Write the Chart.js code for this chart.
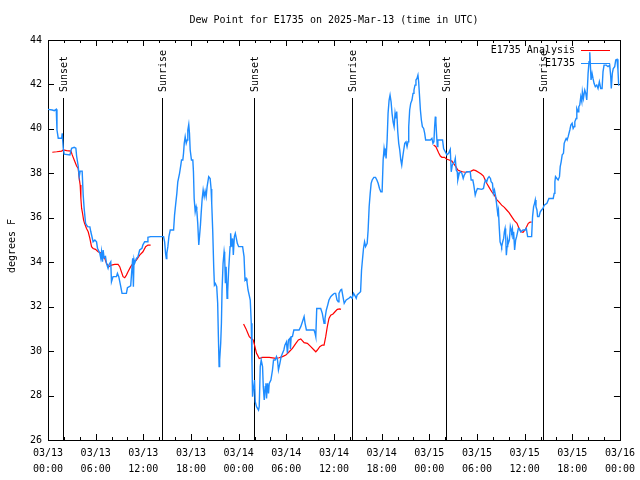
<!DOCTYPE html>
<html>
  <head>
    <title>Dew Point for E1735</title>
    <script src="https://cdn.jsdelivr.net/npm/chart.js@4.4.1/dist/chart.umd.min.js"></script>
    <style>
      body { margin: 0; background: #fff; }
    </style>
  </head>
  <body>
    <canvas id="myChart" width="640" height="480"></canvas>
  </body>
  <script>
    // hours since 03/13 00:00 UTC
    const obsHours = [0.0, 0.54, 0.79, 1.04, 1.13, 1.29, 1.72, 1.79, 1.92, 2.04, 2.76, 2.97, 3.30, 3.51, 3.60, 3.80, 3.93, 4.05, 4.30, 4.43,
      4.55, 4.73, 4.98, 5.27, 5.39, 5.68, 5.90, 6.11, 6.23, 6.52, 6.65, 6.74, 6.86, 6.94, 7.06, 7.24, 7.36, 7.56, 7.69, 7.90,
      7.99, 8.19, 8.62, 8.74, 8.91, 9.16, 9.32, 9.87, 10.00, 10.41, 10.66, 10.75, 10.83, 10.91, 11.13, 11.33, 11.54, 11.83, 11.95, 12.17,
      12.51, 12.58, 12.92, 14.26, 14.55, 14.68, 14.80, 14.89, 14.96, 15.09, 15.22, 15.39, 15.81, 15.93, 16.06, 16.22, 16.34, 16.56, 16.72, 16.81,
      16.97, 17.06, 17.15, 17.27, 17.40, 17.52, 17.60, 17.72, 17.81, 17.90, 18.06, 18.23, 18.31, 18.40, 18.53, 18.65, 18.73, 18.85, 18.98, 19.07,
      19.19, 19.28, 19.41, 19.53, 19.66, 19.78, 19.91, 20.03, 20.23, 20.41, 20.53, 20.61, 20.74, 20.86, 20.95, 21.07, 21.24, 21.36, 21.45, 21.54,
      21.61, 21.74, 21.83, 21.91, 22.04, 22.17, 22.24, 22.33, 22.42, 22.54, 22.62, 22.74, 22.92, 22.99, 23.12, 23.24, 23.33, 23.46, 23.58, 23.71,
      23.83, 24.00, 24.50, 24.68, 24.80, 24.93, 25.05, 25.18, 25.34, 25.46, 25.59, 25.68, 25.75, 25.84, 26.00, 26.09, 26.25, 26.50, 26.59, 26.72,
      26.84, 27.01, 27.10, 27.22, 27.35, 27.43, 27.51, 27.63, 27.76, 27.85, 28.06, 28.26, 28.39, 28.60, 28.76, 28.89, 29.01, 29.19, 29.35, 29.52,
      29.69, 29.82, 30.02, 30.14, 30.27, 30.44, 30.52, 30.61, 30.77, 30.95, 31.61, 31.82, 32.03, 32.24, 32.36, 32.53, 33.49, 33.62, 33.71, 33.83,
      34.33, 34.53, 34.75, 34.87, 35.04, 35.21, 35.37, 35.59, 35.79, 36.04, 36.21, 36.38, 36.54, 36.63, 36.84, 36.97, 37.13, 37.29, 37.54, 37.88,
      38.09, 38.29, 38.47, 38.63, 38.80, 38.92, 39.14, 39.35, 39.47, 39.60, 39.72, 39.85, 39.98, 40.18, 40.30, 40.43, 40.56, 40.68, 40.81, 41.02,
      41.23, 41.40, 41.56, 41.73, 41.90, 42.06, 42.19, 42.31, 42.40, 42.49, 42.56, 42.69, 42.81, 42.94, 43.06, 43.19, 43.31, 43.44, 43.57, 43.69,
      43.78, 43.90, 44.03, 44.15, 44.28, 44.41, 44.53, 44.66, 44.78, 44.91, 45.07, 45.20, 45.32, 45.41, 45.53, 45.66, 45.82, 45.95, 46.07, 46.20,
      46.32, 46.45, 46.57, 46.66, 46.75, 46.88, 47.00, 47.13, 47.29, 47.42, 47.54, 48.13, 48.33, 48.46, 48.58, 48.67, 48.76, 48.83, 48.92, 49.01,
      49.08, 49.67, 49.80, 50.01, 50.21, 50.43, 50.64, 50.76, 50.89, 51.01, 51.18, 51.27, 51.39, 51.52, 51.59, 51.77, 51.93, 52.10, 52.27, 52.40,
      52.52, 52.72, 53.15, 53.27, 53.48, 53.60, 53.69, 53.78, 53.90, 54.06, 54.60, 54.82, 54.94, 55.07, 55.23, 55.36, 55.53, 55.70, 55.78, 55.95,
      56.07, 56.20, 56.36, 56.49, 56.61, 56.70, 56.79, 56.91, 57.04, 57.11, 57.24, 57.36, 57.45, 57.54, 57.61, 57.70, 57.79, 57.87, 57.95, 58.08,
      58.20, 58.29, 58.37, 58.46, 58.54, 58.62, 58.74, 58.87, 58.99, 59.12, 59.21, 59.33, 59.50, 59.80, 60.05, 60.21, 60.38, 60.88, 61.00, 61.13,
      61.25, 61.34, 61.43, 61.55, 61.63, 61.81, 61.97, 62.13, 62.31, 62.47, 62.81, 63.06, 63.60, 63.72, 63.81, 63.89, 64.06, 64.22, 64.39, 64.48,
      64.60, 64.73, 64.89, 64.98, 65.14, 65.23, 65.35, 65.48, 65.69, 65.82, 65.98, 66.11, 66.23, 66.32, 66.48, 66.57, 66.73, 66.82, 66.94, 67.07,
      67.20, 67.27, 67.40, 67.57, 67.70, 67.82, 67.90, 67.99, 68.11, 68.20, 68.28, 68.36, 68.49, 68.61, 68.74, 68.90, 69.08, 69.24, 69.41, 69.58,
      69.75, 69.87, 70.00, 70.28, 70.50, 70.71, 70.84, 70.91, 71.04, 71.16, 71.34, 71.47, 71.63, 71.75, 71.84, 71.92]
    const obsDew = [40.88, 40.85, 40.82, 40.88, 39.95, 39.58, 39.58, 39.8, 39.13, 38.86, 38.83, 39.13, 39.17, 39.13, 38.78, 38.33, 37.85, 38.1, 38.1, 37.02,
      36.43, 35.75, 35.6, 35.59, 35.37, 34.92, 35.0, 34.92, 34.63, 34.4, 34.17, 34.47, 34.02, 34.55, 34.2, 34.25, 33.95, 33.73, 33.9, 34.02,
      33.12, 33.35, 33.35, 33.5, 33.35, 32.9, 32.6, 32.6, 32.85, 32.94, 34.18, 32.9, 34.1, 33.95, 34.17, 34.25, 34.55, 34.63, 34.78, 34.92,
      34.92, 35.12, 35.15, 35.15, 35.15, 34.92, 34.4, 34.17, 34.4, 34.7, 35.15, 35.45, 35.45, 36.12, 36.57, 37.1, 37.62, 38.0, 38.37, 38.6,
      38.6, 38.9, 39.35, 39.65, 39.35, 39.5, 39.95, 40.2, 39.8, 39.05, 38.6, 38.6, 38.07, 36.87, 36.27, 36.5, 36.35, 35.75, 34.78, 35.15,
      35.67, 36.2, 36.87, 37.25, 36.95, 37.2, 36.95, 37.4, 37.85, 37.77, 37.3, 36.65, 35.37, 33.8, 32.97, 33.04, 32.9, 32.15, 30.65, 29.3,
      29.6, 30.35, 31.25, 32.75, 33.95, 34.47, 34.25, 33.05, 33.8, 32.38, 32.68, 33.65, 34.7, 35.3, 34.7, 35.07, 34.33, 35.15, 35.3, 35.07,
      34.85, 34.7, 34.7, 34.25, 33.2, 33.27, 33.12, 32.75, 32.5, 32.3, 31.25, 29.45, 27.95, 28.25, 28.7, 27.72, 27.5, 27.35, 27.5, 29.3,
      29.6, 29.3, 28.4, 27.8, 28.4, 28.55, 27.87, 28.55, 28.1, 28.55, 28.7, 29.15, 29.6, 29.6, 29.75, 29.6, 29.15, 29.45, 29.75, 29.9,
      30.05, 30.27, 30.42, 29.9, 30.5, 30.57, 30.1, 30.65, 30.65, 30.95, 30.95, 31.1, 31.32, 31.55, 31.25, 30.95, 30.95, 30.8, 30.65, 31.92,
      31.92, 31.7, 31.25, 31.47, 31.85, 32.07, 32.3, 32.45, 32.52, 32.6, 32.6, 32.3, 32.22, 32.6, 32.75, 32.78, 32.45, 32.15, 32.3, 32.38,
      32.45, 32.38, 32.6, 32.5, 32.38, 32.53, 32.6, 32.67, 33.65, 34.17, 34.63, 34.92, 34.7, 34.85, 35.45, 36.5, 37.1, 37.55, 37.7, 37.82,
      37.82, 37.7, 37.55, 37.32, 37.17, 37.17, 38.6, 39.12, 38.9, 39.0, 38.67, 39.5, 40.7, 41.3, 41.52, 41.22, 40.7, 40.32, 40.1, 40.7,
      40.47, 40.78, 39.87, 39.35, 39.05, 38.6, 38.37, 38.75, 39.05, 39.35, 39.42, 39.2, 39.42, 40.1, 40.85, 41.15, 41.3, 41.6, 41.75, 41.97,
      42.2, 42.27, 42.42, 42.12, 41.6, 40.85, 40.4, 40.1, 40.02, 39.8, 39.5, 39.5, 39.57, 39.35, 39.42, 40.1, 40.55, 40.32, 39.72, 39.2,
      39.5, 39.5, 39.12, 38.97, 38.83, 38.9, 39.08, 38.07, 38.37, 38.45, 38.52, 38.67, 38.15, 38.07, 37.7, 38.0, 38.07, 38.0, 37.77, 37.92,
      38.0, 38.07, 38.07, 37.7, 37.7, 37.47, 37.25, 37.02, 37.17, 37.32, 37.28, 37.32, 37.55, 37.7, 37.62, 37.77, 37.85, 37.77, 37.62, 37.55,
      37.1, 37.25, 36.95, 36.57, 36.2, 36.35, 35.67, 34.92, 34.77, 34.7, 34.92, 35.07, 35.37, 35.52, 35.22, 34.32, 34.7, 34.99, 34.85, 34.99,
      35.6, 35.45, 35.37, 35.52, 35.07, 35.37, 34.55, 35.0, 35.15, 35.37, 35.52, 35.52, 35.37, 35.45, 35.45, 35.52, 35.15, 35.15, 36.05, 36.5,
      36.65, 36.8, 36.5, 36.35, 36.05, 36.05, 36.27, 36.35, 36.42, 36.57, 36.65, 36.87, 36.87, 37.1, 37.62, 37.85, 37.77, 37.7, 37.85, 38.3,
      38.52, 38.83, 38.9, 39.35, 39.5, 39.57, 39.5, 39.65, 39.95, 40.17, 40.25, 40.02, 40.1, 40.32, 40.47, 40.92, 40.77, 41.0, 41.07, 41.45,
      41.22, 41.67, 41.37, 41.75, 41.6, 41.3, 41.82, 42.5, 43.02, 43.45, 42.87, 42.2, 42.5, 42.27, 42.05, 41.9, 41.97, 41.82, 42.12, 41.82,
      41.82, 42.58, 42.87, 42.87, 42.8, 42.87, 42.35, 41.82, 42.5, 42.72, 42.8, 43.1, 43.13, 42.65, 41.97, 41.97]

    // analysis, null marks a gap in the run
    const anaHours = [0.54, 1.09, 1.72, 1.92, 2.35, 2.89, 3.05, 3.30, 3.60, 3.80, 3.93, 4.05, 4.14, 4.23, 4.35, 4.48, 4.60, 4.85, 5.06, 5.27,
      5.48, 5.68, 5.98, 6.31, 6.74, 7.06, 7.36, 7.65, 7.99, 8.40, 8.82, 9.03, 9.24, 9.45, 9.66, 9.87, 10.07, 10.41, 10.70, 11.13,
      11.54, 11.95, 12.29, 12.58, 12.92, 18.0,
      24.62, 24.93, 25.13, 25.34, 25.59, 25.84, 26.05, 26.25, 26.38, 26.59, 27.01, 27.85, 28.69, 29.10, 29.52, 29.94, 30.36, 30.77, 31.20, 31.52,
      31.82, 32.24, 32.65, 33.08, 33.49, 33.71, 33.91, 34.21, 34.53, 34.75, 34.96, 35.16, 35.37, 35.59, 35.88, 36.13, 36.42, 36.72, 36.88, 42.0,
      48.54, 48.83, 48.96, 49.17, 49.39, 49.59, 49.92, 50.21, 50.51, 50.84, 51.05, 51.34, 51.59, 51.89, 52.18, 52.52, 52.94, 53.27, 53.56, 53.85,
      54.19, 54.53, 54.82, 55.03, 55.23, 55.53, 55.86, 56.20, 56.49, 56.79, 57.11, 57.45, 57.74, 58.04, 58.37, 58.71, 59.04, 59.30, 59.55, 59.80,
      60.05, 60.25, 60.46, 60.68, 60.88]
    const anaDew = [38.95, 38.97, 39.0, 39.05, 39.02, 39.0, 38.83, 38.6, 38.33, 38.22, 37.77, 37.47, 36.87, 36.43, 36.2, 35.9, 35.75, 35.52, 35.37, 35.07,
      34.7, 34.62, 34.58, 34.47, 34.4, 34.25, 33.95, 33.8, 33.87, 33.9, 33.9, 33.8, 33.57, 33.35, 33.3, 33.42, 33.57, 33.8, 33.95, 34.1,
      34.32, 34.47, 34.7, 34.77, 34.77, null,
      31.22, 31.0, 30.83, 30.65, 30.57, 30.5, 30.2, 29.9, 29.82, 29.67, 29.72, 29.72, 29.67, 29.7, 29.75, 29.82, 29.97, 30.12, 30.35, 30.5,
      30.55, 30.38, 30.35, 30.2, 30.05, 29.97, 30.05, 30.2, 30.27, 30.27, 30.65, 31.1, 31.47, 31.62, 31.67, 31.77, 31.88, 31.9, 31.88, null,
      39.27, 39.2, 39.1, 38.93, 38.78, 38.72, 38.72, 38.63, 38.6, 38.55, 38.45, 38.3, 38.15, 38.1, 38.07, 38.05, 38.07, 38.1, 38.15, 38.12,
      38.05, 37.97, 37.88, 37.7, 37.55, 37.37, 37.17, 37.02, 36.82, 36.7, 36.57, 36.47, 36.35, 36.23, 36.05, 35.87, 35.75, 35.52, 35.37, 35.35,
      35.45, 35.6, 35.75, 35.8, 35.8]

    const sunHours = [1.9, 14.3, 25.95, 38.26, 50.05, 62.33]
    const sunNames = ['Sunset', 'Sunrise', 'Sunset', 'Sunrise', 'Sunset', 'Sunrise']

    const FONT = '10px "DejaVu Sans Mono", monospace'

    const frameAndMarks = {
      id: 'frameAndMarks',
      beforeDatasetsDraw(chart) {
        const { ctx, chartArea: { top, right, bottom, left }, scales: { x, y } } = chart
        ctx.save()
        ctx.strokeStyle = '#000'
        ctx.lineWidth = 1
        ctx.beginPath()
        // minor x ticks every 2 h, major every 6 h
        for (let h = 0; h <= 72; h += 2) {
          const px = Math.round(x.getPixelForValue(h)) + 0.5
          const len = h % 6 === 0 ? 6 : 3
          ctx.moveTo(px, bottom); ctx.lineTo(px, bottom - len)
          ctx.moveTo(px, top); ctx.lineTo(px, top + len)
        }
        for (let v = 26; v <= 44; v += 2) {
          const py = Math.round(y.getPixelForValue(v)) + 0.5
          ctx.moveTo(left, py); ctx.lineTo(left + 6, py)
          ctx.moveTo(right, py); ctx.lineTo(right - 6, py)
        }
        // sunrise / sunset markers
        sunHours.forEach((h) => {
          const px = Math.round(x.getPixelForValue(h)) + 0.5
          ctx.moveTo(px, 98); ctx.lineTo(px, bottom)
        })
        ctx.stroke()
        ctx.strokeRect(Math.round(left) + 0.5, Math.round(top) + 0.5, Math.round(right - left), Math.round(bottom - top))

        ctx.fillStyle = '#000'
        ctx.font = FONT
        sunHours.forEach((h, i) => {
          const px = Math.round(x.getPixelForValue(h)) + 1
          ctx.save()
          ctx.translate(px, 92)
          ctx.rotate(-Math.PI / 2)
          ctx.textAlign = 'left'
          ctx.textBaseline = 'middle'
          ctx.fillText(sunNames[i], 0, 0)
          ctx.restore()
        })
        ctx.restore()
      },
      afterDraw(chart) {
        const { ctx, chartArea: { left, right } } = chart
        ctx.save()
        ctx.fillStyle = '#000'
        ctx.font = FONT
        ctx.textAlign = 'center'
        ctx.textBaseline = 'middle'
        ctx.fillText('Dew Point for E1735 on 2025-Mar-13 (time in UTC)', (left + right) / 2, 20)

        ctx.save()
        ctx.translate(12, 246)
        ctx.rotate(-Math.PI / 2)
        ctx.fillText('degrees F', 0, 0)
        ctx.restore()

        // key
        const items = [['E1735 Analysis', '#ff0000', 50], ['E1735', '#1e8cff', 63]]
        ctx.textAlign = 'right'
        items.forEach(([label, color, ly]) => {
          ctx.fillStyle = '#000'
          ctx.fillText(label, 575, ly)
          ctx.strokeStyle = color
          ctx.lineWidth = 1
          ctx.beginPath()
          ctx.moveTo(581, ly + 0.5)
          ctx.lineTo(610, ly + 0.5)
          ctx.stroke()
        })
        ctx.restore()
      },
    }

    const ctx = document.getElementById('myChart').getContext('2d')
    const myChart = new Chart(ctx, {
      type: 'line',
      data: {
        datasets: [
          {
            label: 'E1735',
            data: obsHours.map((h, i) => ({ x: h, y: obsDew[i] })),
            borderColor: '#1e8cff',
            borderWidth: 1.4,
            pointRadius: 0,
            tension: 0,
            order: 0,
          },
          {
            label: 'E1735 Analysis',
            data: anaHours.map((h, i) => ({ x: h, y: anaDew[i] })),
            borderColor: '#ff0000',
            borderWidth: 1.2,
            pointRadius: 0,
            tension: 0,
            spanGaps: false,
            order: 1,
          },
        ],
      },
      options: {
        responsive: false,
        animation: false,
        devicePixelRatio: 1,
        layout: { padding: { top: 40, right: 18, left: 0, bottom: 0 } },
        scales: {
          x: {
            type: 'linear',
            min: 0,
            max: 72,
            afterFit: (s) => { s.height = 40 },
            afterBuildTicks: (s) => { s.ticks = Array.from({ length: 13 }, (_, i) => ({ value: i * 6 })) },
            grid: { display: false, drawTicks: false },
            border: { display: false },
            ticks: {
              autoSkip: false,
              maxRotation: 0,
              padding: 5,
              color: '#000',
              font: { family: '"DejaVu Sans Mono", monospace', size: 10, lineHeight: 1.6 },
              callback: (v) => {
                const day = 13 + Math.floor(v / 24)
                const hr = v % 24
                return ['03/' + day, String(hr).padStart(2, '0') + ':00']
              },
            },
          },
          y: {
            min: 26,
            max: 44,
            afterFit: (s) => { s.width = 48 },
            grid: { display: false, drawTicks: false },
            border: { display: false },
            ticks: {
              stepSize: 2,
              padding: 6,
              color: '#000',
              font: { family: '"DejaVu Sans Mono", monospace', size: 10 },
            },
          },
        },
        plugins: {
          legend: { display: false },
          tooltip: { enabled: false },
        },
      },
      plugins: [frameAndMarks],
    })
  </script>
</html>
